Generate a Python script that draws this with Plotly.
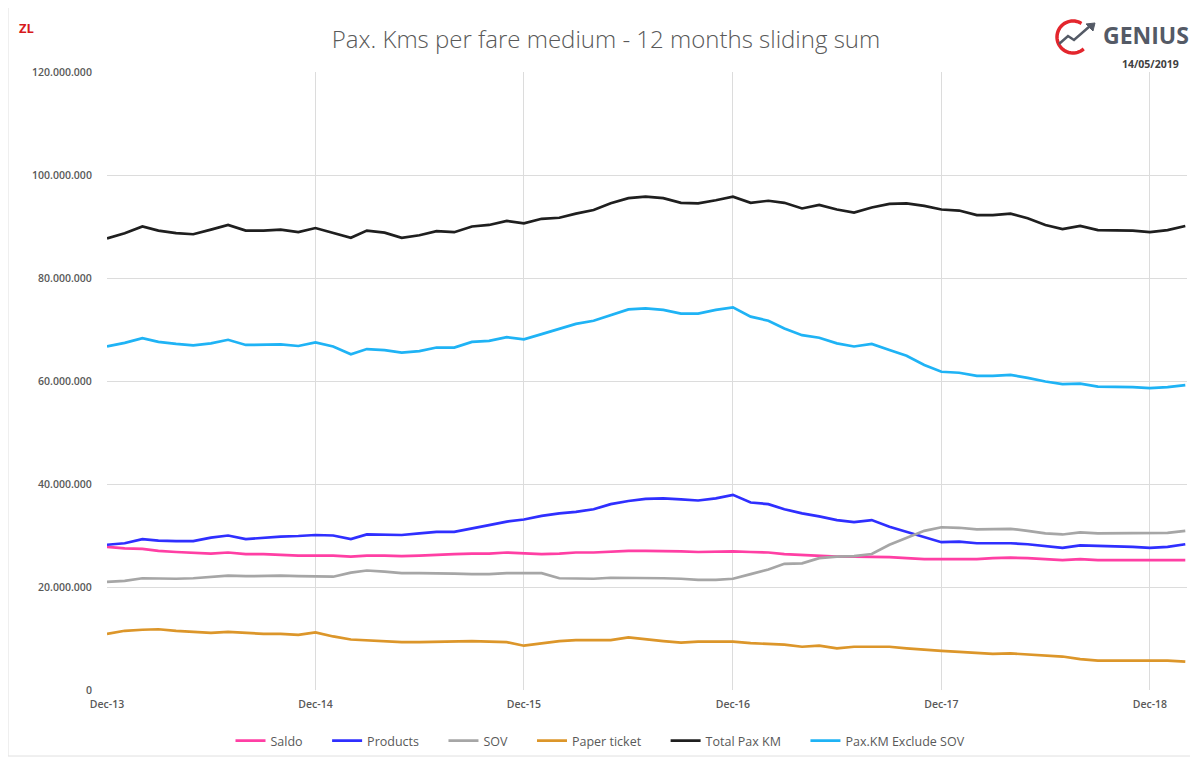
import math
import pandas as pd
import plotly.graph_objects as go

# ---------------- data (millions of pax-km, 12-month sliding sum) ----------------
months = pd.date_range("2013-12-01", periods=63, freq="MS")

saldo = [27.8, 27.5, 27.4, 27.0, 26.8, 26.7, 26.5, 26.7, 26.4, 26.4, 26.2, 26.1,
         26.1, 26.1, 25.9, 26.1, 26.1, 26.0, 26.1, 26.3, 26.4, 26.5, 26.5, 26.7,
         26.5, 26.4, 26.5, 26.7, 26.7, 26.9, 27.0, 27.0, 27.0, 26.9, 26.8, 26.9,
         26.9, 26.8, 26.7, 26.4, 26.2, 26.1, 25.9, 25.9, 25.9, 25.8, 25.6, 25.4,
         25.4, 25.4, 25.4, 25.6, 25.7, 25.6, 25.4, 25.2, 25.4, 25.2, 25.2, 25.2,
         25.2, 25.2, 25.2]

products = [28.2, 28.5, 29.3, 29.0, 28.9, 28.9, 29.6, 30.0, 29.3, 29.6, 29.8, 29.9,
            30.1, 30.0, 29.3, 30.2, 30.2, 30.1, 30.4, 30.7, 30.7, 31.3, 32.0, 32.7,
            33.1, 33.8, 34.3, 34.6, 35.1, 36.1, 36.7, 37.1, 37.2, 37.0, 36.8, 37.2,
            37.9, 36.4, 36.1, 35.1, 34.3, 33.7, 33.0, 32.6, 33.0, 31.7, 30.7, 29.6,
            28.7, 28.8, 28.5, 28.5, 28.5, 28.3, 28.0, 27.6, 28.1, 28.0, 28.0, 27.8,
            27.6, 27.8, 28.3]

sov = [21.0, 21.2, 21.7, 21.6, 21.6, 21.7, 22.0, 22.2, 22.1, 22.2, 22.2, 22.1,
       22.1, 22.0, 22.8, 23.2, 23.0, 22.7, 22.7, 22.7, 22.6, 22.5, 22.5, 22.7,
       22.7, 22.7, 21.7, 21.6, 21.6, 21.8, 21.8, 21.8, 21.7, 21.6, 21.4, 21.4,
       21.6, 22.5, 23.4, 24.5, 24.6, 25.6, 25.9, 26.0, 26.4, 28.2, 29.5, 30.9,
       31.6, 31.5, 31.2, 31.2, 31.3, 30.9, 30.4, 30.2, 30.6, 30.4, 30.4, 30.4,
       30.4, 30.5, 30.9]

paper_ticket = [10.9, 11.5, 11.7, 11.8, 11.5, 11.3, 11.1, 11.3, 11.1, 10.9, 10.9, 10.7,
                11.2, 10.4, 9.8, 9.6, 9.5, 9.3, 9.3, 9.4, 9.5, 9.5, 9.4, 9.3,
                8.6, 9.1, 9.5, 9.7, 9.7, 9.7, 10.2, 9.8, 9.5, 9.2, 9.4, 9.4,
                9.4, 9.1, 8.9, 8.8, 8.4, 8.6, 8.1, 8.4, 8.4, 8.4, 8.1, 7.8,
                7.6, 7.4, 7.2, 7.0, 7.1, 6.9, 6.6, 6.5, 6.0, 5.7, 5.7, 5.7,
                5.7, 5.7, 5.5]

total_pax_km = [87.7, 88.7, 90.0, 89.2, 88.7, 88.5, 89.4, 90.3, 89.2, 89.2, 89.4, 88.9,
                89.7, 88.8, 87.8, 89.2, 88.8, 87.8, 88.3, 89.1, 88.9, 90.0, 90.3, 91.1,
                90.6, 91.5, 91.7, 92.5, 93.2, 94.5, 95.5, 95.8, 95.5, 94.6, 94.5, 95.1,
                95.8, 94.6, 95.0, 94.6, 93.5, 94.2, 93.3, 92.7, 93.7, 94.4, 94.5, 94.0,
                93.3, 93.1, 92.2, 92.2, 92.5, 91.6, 90.3, 89.5, 90.1, 89.3, 89.3, 89.2,
                88.9, 89.3, 90.1]

pax_km_excl_sov = [66.7, 67.4, 68.3, 67.6, 67.2, 66.9, 67.3, 68.0, 67.0, 67.0, 67.1, 66.8,
                   67.5, 66.7, 65.2, 66.2, 66.0, 65.5, 65.8, 66.5, 66.5, 67.6, 67.8, 68.5,
                   68.1, 69.1, 70.2, 71.1, 71.7, 72.8, 73.9, 74.1, 73.8, 73.1, 73.1, 73.8,
                   74.3, 72.5, 71.7, 70.2, 68.9, 68.4, 67.3, 66.7, 67.2, 66.0, 64.9, 63.1,
                   61.8, 61.6, 61.0, 61.0, 61.2, 60.6, 59.9, 59.4, 59.5, 58.9, 58.9, 58.8,
                   58.6, 58.8, 59.2]

series_names = ["Saldo", "Products", "SOV", "Paper ticket", "Total Pax KM", "Pax.KM Exclude SOV"]
series_values = [saldo, products, sov, paper_ticket, total_pax_km, pax_km_excl_sov]
series_colors = ["#ff3fa4", "#2f2fff", "#a6a6a6", "#dc962a", "#1f1f1f", "#1fb3f5"]

tick_dates = ["2013-12-01", "2014-12-01", "2015-12-01", "2016-12-01", "2017-12-01", "2018-12-01"]
tick_labels = ["Dec-13", "Dec-14", "Dec-15", "Dec-16", "Dec-17", "Dec-18"]
y_ticks = [0, 20_000_000, 40_000_000, 60_000_000, 80_000_000, 100_000_000, 120_000_000]

# ---------------- figure ----------------
# the page body has an 8px margin, so the figure is laid out 8px up/left of the target
OFF = 8
W, H = 1198 - OFF, 760 - OFF
L = 107 - OFF
T = 72 - OFF
B = H - (690 - OFF)
R = W - (1187 - OFF)
PW, PH = W - L - R, H - T - B


def px(x):
    """target screen x -> paper x"""
    return (x - OFF - L) / PW


def py(y):
    """target screen y -> paper y"""
    return (H - B - (y - OFF)) / PH


fig = go.Figure()
for name, vals, col in zip(series_names, series_values, series_colors):
    fig.add_trace(go.Scatter(
        x=months, y=[v * 1_000_000 for v in vals], name=name + "\u00a0" * 6, mode="lines",
        line=dict(color=col, width=2.7),
        hovertemplate="%{x|%b-%y}: %{y:,.0f}<extra>" + name + "</extra>",
    ))

tick_font = dict(family="Open Sans", size=10.5, color="#595959", weight=600)

fig.update_layout(
    width=W, height=H,
    margin=dict(l=L, r=R, t=T, b=B, autoexpand=False),
    paper_bgcolor="white", plot_bgcolor="white",
    separators=",.",
    font=dict(family="Open Sans", color="#595959"),
    title=dict(text="Pax. Kms per fare medium - 12 months sliding sum",
               x=(606 - OFF) / W, xanchor="center", y=1 - (40 - OFF) / H, yanchor="middle",
               font=dict(family="Open Sans", size=24, color="#595959", weight=300)),
    xaxis=dict(type="date", range=[months[0], months[-1] + pd.Timedelta(days=3)],
               tickvals=tick_dates, ticktext=tick_labels,
               showgrid=True, gridcolor="#dcdcdc", gridwidth=1,
               zeroline=False, showline=False,
               ticks="outside", ticklen=4, tickcolor="rgba(0,0,0,0)",
               tickfont=tick_font),
    yaxis=dict(range=[0, 120_000_000], tickvals=y_ticks, tickformat=",d",
               showgrid=True, gridcolor="#dcdcdc", gridwidth=1,
               zeroline=False, showline=False,
               ticks="outside", ticklen=12, tickcolor="rgba(0,0,0,0)",
               tickfont=tick_font),
    legend=dict(orientation="h", x=px(610), xanchor="center", y=py(741), yanchor="middle",
                font=dict(family="Open Sans", size=12.5, color="#595959"),
                itemwidth=30, tracegroupgap=0, bgcolor="rgba(0,0,0,0)"),
    showlegend=True,
)

# card border
fig.add_shape(type="rect", xref="paper", yref="paper",
              x0=px(8), x1=px(1196), y0=py(756), y1=py(6),
              line=dict(color="#e0e0e0", width=1), layer="below")

# ZL label
fig.add_annotation(text="<b>ZL</b>", xref="paper", yref="paper", x=px(17), y=py(28),
                   xanchor="left", yanchor="middle", showarrow=False,
                   font=dict(family="Open Sans", size=13, color="#d7191c"))

# GENIUS logo text and date
fig.add_annotation(text="<b>GENIUS</b>", xref="paper", yref="paper", x=px(1101), y=py(35),
                   xanchor="left", yanchor="middle", showarrow=False,
                   font=dict(family="Open Sans", size=23, color="#545a66"))
fig.add_annotation(text="<b>14/05/2019</b>", xref="paper", yref="paper", x=px(1150), y=py(64),
                   xanchor="center", yanchor="middle", showarrow=False,
                   font=dict(family="Open Sans", size=10.5, color="#404040"))

# logo arc (red "C")
cx, cy, r = 1073, 37, 16
pts = []
for i in range(0, 41):
    a = math.radians(58 + i * (312 - 58) / 40)
    pts.append((cx + r * math.cos(a), cy - r * math.sin(a)))
path = "M " + " L ".join(f"{px(x):.5f},{py(y):.5f}" for x, y in pts)
fig.add_shape(type="path", xref="paper", yref="paper", path=path,
              line=dict(color="#e3262d", width=3.5))
# zigzag arrow
zig = [(1059, 44), (1068, 36), (1074, 40), (1090, 26)]
zpath = "M " + " L ".join(f"{px(x):.5f},{py(y):.5f}" for x, y in zig)
fig.add_shape(type="path", xref="paper", yref="paper", path=zpath,
              line=dict(color="#545a66", width=2.5))
head = [(1086, 24), (1095, 23), (1093, 31)]
hpath = "M " + " L ".join(f"{px(x):.5f},{py(y):.5f}" for x, y in head) + " Z"
fig.add_shape(type="path", xref="paper", yref="paper", path=hpath,
              fillcolor="#545a66", line=dict(color="#545a66", width=1))

fig.write_html("out.html")
